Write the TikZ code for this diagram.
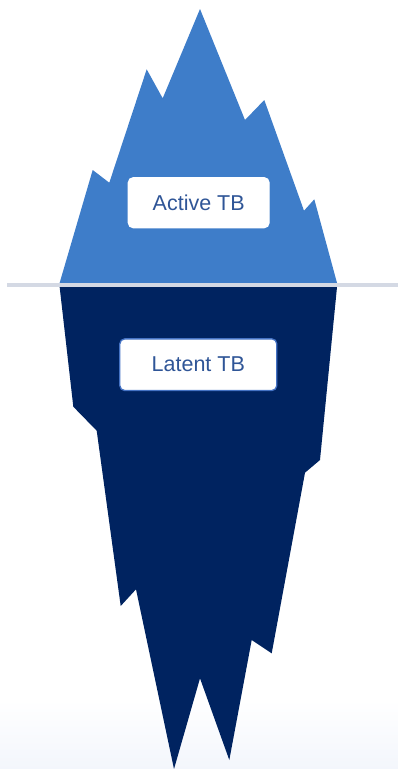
\documentclass[tikz,border=0pt]{standalone}
\usepackage{fontspec}
\setmainfont{Liberation Sans}
\usepackage{tikz}
\usetikzlibrary{calc}

\definecolor{iceTop}{RGB}{62,125,201}
\definecolor{iceBottom}{RGB}{0,35,96}
\definecolor{waterLine}{RGB}{212,217,228}
\definecolor{labelText}{RGB}{47,85,151}
\definecolor{labelEdge}{RGB}{68,114,196}
\definecolor{seaFloor}{RGB}{243,246,252}

\begin{document}
\begin{tikzpicture}[x=1pt, y=-1pt,
        tblabel/.style={draw=#1, line width=1.3pt, fill=white, rounded corners=5pt,
            text=labelText, font=\fontsize{21.5}{25}\selectfont, inner sep=0pt}]
        \useasboundingbox (0,0) rectangle (398,769);
        \shade[top color=white, bottom color=seaFloor] (0,700) rectangle (398,769);
        \fill[iceTop](59.3,284)--(92.7,170)--(109.3,182.7)--(146.7,69.3)--(162.7,98.3)--(200,9)
            --(245,120)--(264.3,100)--(304,210.7)--(314.3,199.3)--(337.3,284)--cycle;
        \fill[iceBottom](59.3,284)--(73.3,406.7)--(96.7,430.7)--(120.7,606)--(136,589.3)--(174,769)
            --(200,678.3)--(229.3,760)--(251.7,640)--(271.7,653.3)--(305,472.7)--(320,460)
            --(337.3,284)--cycle;
        \draw[waterLine, line width=4pt](7.3,284.5)--(398,284.5);
        \node[tblabel=white, minimum width=140.7pt, minimum height=50pt] (active) at (198.7,202.7) {Active TB};
        \node[tblabel=labelEdge, minimum width=157pt, minimum height=51.7pt] (latent) at (198.3,364.7) {Latent TB};
    \end{tikzpicture}
\end{document}
